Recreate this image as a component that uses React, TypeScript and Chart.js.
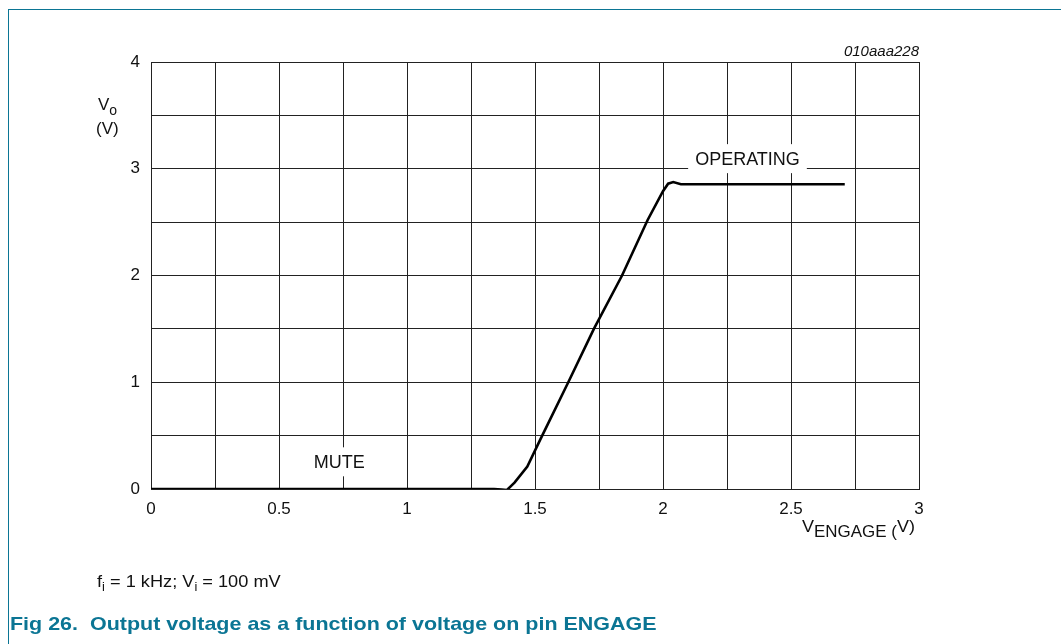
import React, { useEffect, useRef } from "react";
import { Chart, registerables } from "chart.js";

Chart.register(...registerables);

// ---- data ----
const vEngage = [0, 1.34, 1.37, 1.39, 1.42, 1.47, 1.52, 1.63, 1.73, 1.84, 1.94, 2.0, 2.02, 2.04, 2.07, 2.71];
const vOut = [0, 0, -0.004, -0.01, 0.06, 0.21, 0.46, 1.0, 1.5, 2.0, 2.52, 2.79, 2.86, 2.875, 2.855, 2.855];

const xTickValues = [0, 0.5, 1, 1.5, 2, 2.5, 3];
const xTickLabels = ["0", "0.5", "1", "1.5", "2", "2.5", "3"];
const yTickValues = [0, 1, 2, 3, 4];
const yTickLabels = ["0", "1", "2", "3", "4"];

const regionLabels = ["OPERATING", "MUTE"];
const regionX = [2.33, 0.735];
const regionY = [3.09, 0.25];

const FONT = '"Liberation Sans", Arial, sans-serif';
const TEAL = "#0b7594";

const annotationPlugin = {
  id: "annot",
  beforeDatasetsDraw(chart: any) {
    const { ctx, scales } = chart;
    ctx.save();
    ctx.font = `18px ${FONT}`;
    ctx.textAlign = "center";
    ctx.textBaseline = "middle";
    regionLabels.forEach((t, i) => {
      const px = scales.x.getPixelForValue(regionX[i]);
      const py = scales.y.getPixelForValue(regionY[i]);
      const w = ctx.measureText(t).width;
      ctx.fillStyle = "#ffffff";
      ctx.fillRect(px - w / 2 - 7, py - 15, w + 14, 29);
      ctx.fillStyle = "#111";
      ctx.fillText(t, px, py + 1);
    });
    ctx.restore();
  },
  afterDraw(chart: any) {
    const { ctx, chartArea: ca } = chart;
    ctx.save();
    ctx.fillStyle = "#111";
    ctx.textBaseline = "alphabetic";
    ctx.textAlign = "left";
    // y title
    ctx.font = `17px ${FONT}`;
    ctx.fillText("V", ca.left - 53, ca.top + 48);
    const vw = ctx.measureText("V").width;
    ctx.font = `14px ${FONT}`;
    ctx.fillText("o", ca.left - 53 + vw, ca.top + 53);
    ctx.font = `17px ${FONT}`;
    ctx.fillText("(V)", ca.left - 55, ca.top + 72);
    // x title
    const parts = [
      { t: "V", f: `17px ${FONT}`, dy: 0 },
      { t: "ENGAGE (", f: `16px ${FONT}`, dy: 5 },
      { t: "V)", f: `17px ${FONT}`, dy: 0 },
    ];
    const sx = 1.06;
    let total = 0;
    parts.forEach((p) => {
      ctx.font = p.f;
      total += ctx.measureText(p.t).width;
    });
    const startX = ca.right - 4 - total * sx;
    const base = ca.bottom + 43;
    ctx.save();
    ctx.translate(startX, base);
    ctx.scale(sx, 1);
    let x = 0;
    parts.forEach((p) => {
      ctx.font = p.f;
      ctx.fillText(p.t, x, p.dy);
      x += ctx.measureText(p.t).width;
    });
    ctx.restore();
    // figure code
    ctx.font = `italic 15px ${FONT}`;
    ctx.textAlign = "right";
    ctx.fillText("010aaa228", ca.right, ca.top - 6);
    ctx.restore();
  },
};

export default function App() {
  const ref = useRef<HTMLCanvasElement | null>(null);

  useEffect(() => {
    document.body.style.overflow = "hidden";
    const canvas = ref.current;
    if (!canvas) return;
    const chart = new Chart(canvas, {
      type: "line",
      data: {
        datasets: [
          {
            data: vEngage.map((v, i) => ({ x: v, y: vOut[i] })),
            borderColor: "#000",
            borderWidth: 2.6,
            pointRadius: 0,
            tension: 0,
            fill: false,
          },
        ],
      },
      options: {
        animation: false,
        responsive: true,
        maintainAspectRatio: false,
        layout: { padding: { left: 91, top: 62, right: 142, bottom: 0 } },
        plugins: { legend: { display: false }, tooltip: { enabled: false } },
        scales: {
          x: {
            type: "linear",
            min: 0,
            max: 3,
            afterFit: (s: any) => {
              s.height = 155;
            },
            grid: { color: "#222", lineWidth: 1, drawTicks: false },
            border: { color: "#222", width: 1 },
            ticks: {
              stepSize: 0.25,
              autoSkip: false,
              maxRotation: 0,
              padding: 10,
              color: "#111",
              font: { family: FONT, size: 17 },
              callback: (v: any) => {
                const i = xTickValues.indexOf(Number(v));
                return i >= 0 ? xTickLabels[i] : "";
              },
            },
          },
          y: {
            type: "linear",
            min: 0,
            max: 4,
            afterFit: (s: any) => {
              s.width = 60;
            },
            grid: { color: "#222", lineWidth: 1, drawTicks: false },
            border: { color: "#222", width: 1 },
            ticks: {
              stepSize: 0.5,
              autoSkip: false,
              padding: 11,
              color: "#111",
              font: { family: FONT, size: 17 },
              callback: (v: any) => {
                const i = yTickValues.indexOf(Number(v));
                return i >= 0 ? yTickLabels[i] : "";
              },
            },
          },
        },
      },
      plugins: [annotationPlugin],
    });
    return () => chart.destroy();
  }, []);

  return (
    <div style={{ position: "absolute", left: 0, top: 0, width: 1061, height: 644, overflow: "hidden", background: "#fff" }}>
      <div
        style={{
          position: "absolute",
          left: 8,
          top: 9,
          width: 1053,
          height: 635,
          boxSizing: "border-box",
          borderLeft: `1.5px solid ${TEAL}`,
          borderTop: `1.5px solid ${TEAL}`,
        }}
      />
      <div style={{ position: "absolute", left: 0, top: 0, width: 1061, height: 644 }}>
        <canvas ref={ref} />
      </div>
      <div
        style={{
          position: "absolute",
          left: 97,
          top: 573,
          fontFamily: FONT,
          fontSize: 17,
          lineHeight: "17px",
          color: "#111",
          whiteSpace: "pre",
          transform: "scaleX(1.07)",
          transformOrigin: "left top",
        }}
      >
        f<span style={{ fontSize: 12, position: "relative", top: 4 }}>i</span> = 1 kHz; V
        <span style={{ fontSize: 12, position: "relative", top: 4 }}>i</span> = 100 mV
      </div>
      <div
        style={{
          position: "absolute",
          left: 10,
          top: 614,
          fontFamily: FONT,
          fontSize: 19,
          fontWeight: "bold",
          lineHeight: "19px",
          color: TEAL,
          whiteSpace: "pre",
          transform: "scaleX(1.13)",
          transformOrigin: "left top",
        }}
      >
        {"Fig 26.  Output voltage as a function of voltage on pin ENGAGE"}
      </div>
    </div>
  );
}
